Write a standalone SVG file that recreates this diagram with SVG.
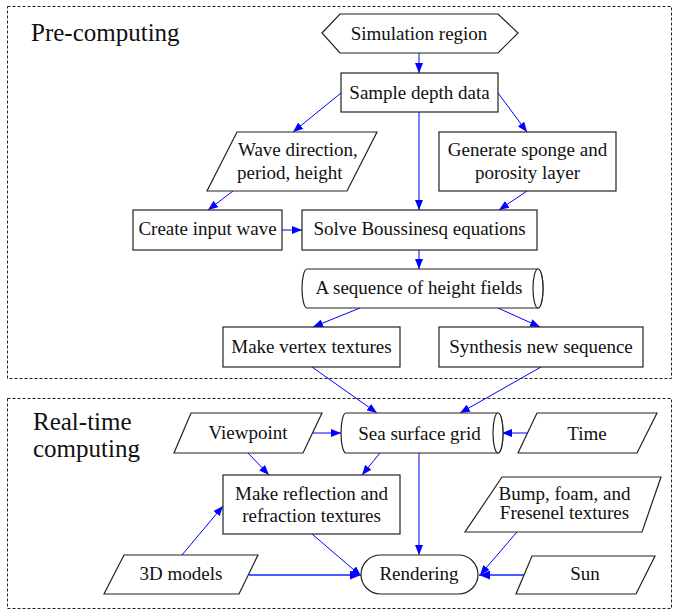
<svg xmlns="http://www.w3.org/2000/svg" width="674" height="612" viewBox="0 0 674 612">
<defs>
<style>
.sh{fill:#fff;stroke:#222;stroke-width:1.2}
.t{font-family:"Liberation Serif","Times New Roman",serif;font-size:19px;fill:#111}
.c{text-anchor:middle}
.h{font-family:"Liberation Serif","Times New Roman",serif;font-size:25px;fill:#111}
.frame{fill:none;stroke:#222;stroke-width:1;stroke-dasharray:3 2}
.e{fill:none;stroke:#0000ff;stroke-width:1;marker-end:url(#ah)}
.eb{fill:none;stroke:#4a5cff;stroke-width:2.2;marker-end:url(#ahb)}
</style>
<marker id="ah" viewBox="0 0 10 8" refX="10" refY="4" markerWidth="10" markerHeight="8" markerUnits="userSpaceOnUse" orient="auto">
<path d="M0,0 L10,4 L0,8 z" fill="#0000ff"/>
</marker>
<marker id="ahb" viewBox="0 0 10 8" refX="10" refY="4" markerWidth="11" markerHeight="9" markerUnits="userSpaceOnUse" orient="auto">
<path d="M0,0 L10,4 L0,8 z" fill="#0000ff"/>
</marker>
</defs>
<rect x="0" y="0" width="674" height="612" fill="#fff"/>

<g id="frames">
<rect class="frame" x="7.5" y="6.5" width="664" height="372"/>
<rect class="frame" x="7.5" y="398.5" width="664" height="210"/>
<text class="h" x="31" y="41">Pre-computing</text>
<text class="h" x="33" y="430">Real-time</text>
<text class="h" x="33" y="457">computing</text>
</g>

<g id="connectors">
<line class="e" x1="419" y1="53" x2="419" y2="73"/>
<line class="e" x1="341" y1="93" x2="293" y2="132"/>
<line class="e" x1="498" y1="93" x2="527" y2="132"/>
<line class="e" x1="419" y1="112" x2="419" y2="210"/>
<line class="e" x1="233" y1="191" x2="208" y2="210"/>
<line class="e" x1="527" y1="191" x2="499" y2="210"/>
<line class="e" x1="282" y1="230" x2="302" y2="230"/>
<line class="e" x1="419" y1="250" x2="419" y2="269"/>
<line class="e" x1="360" y1="308" x2="313" y2="327"/>
<line class="e" x1="498" y1="308" x2="540" y2="327"/>
<line class="e" x1="312" y1="367" x2="377" y2="413"/>
<line class="e" x1="541" y1="367" x2="460" y2="413"/>
<line class="e" x1="312" y1="433" x2="341" y2="433"/>
<line class="e" x1="527" y1="433" x2="502" y2="433"/>
<line class="e" x1="248" y1="453" x2="269" y2="475"/>
<line class="e" x1="380" y1="453" x2="362" y2="475"/>
<line class="e" x1="419" y1="453" x2="419" y2="555"/>
<line class="e" x1="182" y1="555" x2="223" y2="506"/>
<line class="e" x1="312" y1="534" x2="361" y2="576"/>
<line class="e" x1="517" y1="532" x2="480" y2="575"/>
<line class="eb" x1="249" y1="575" x2="361" y2="575"/>
<line class="eb" x1="524" y1="575" x2="479" y2="575"/>
</g>

<g id="simulation-region">
<polygon class="sh" points="322,33 340,14 498,14 518,33 498,53 340,53"/>
<text class="t c" x="419" y="40">Simulation region</text>
</g>
<g id="sample-depth">
<rect class="sh" x="341" y="73" width="157" height="39"/>
<text class="t c" x="419.5" y="99">Sample depth data</text>
</g>
<g id="wave-direction">
<polygon class="sh" points="237,132 377,132 347,191 207,191"/>
<text class="t" x="238" y="156">Wave direction,</text>
<text class="t" x="237" y="179">period, height</text>
</g>
<g id="sponge">
<rect class="sh" x="439" y="132" width="177" height="59"/>
<text class="t c" x="527.5" y="156">Generate sponge and</text>
<text class="t c" x="527.5" y="179">porosity layer</text>
</g>
<g id="create-input-wave">
<rect class="sh" x="133" y="210" width="149" height="40"/>
<text class="t c" x="207.5" y="235">Create input wave</text>
</g>
<g id="solve">
<rect class="sh" x="302" y="210" width="235" height="40"/>
<text class="t c" x="419.5" y="235">Solve Boussinesq equations</text>
</g>
<g id="height-fields">
<path class="sh" d="M307,269 L538,269 A5,19.5 0 0 1 538,308 L307,308 A5,19.5 0 0 1 307,269 Z"/>
<ellipse class="sh" cx="538" cy="288.5" rx="5" ry="19.5"/>
<text class="t c" x="419" y="294">A sequence of height fields</text>
</g>
<g id="vertex-textures">
<rect class="sh" x="223" y="327" width="177" height="40"/>
<text class="t c" x="311.5" y="353">Make vertex textures</text>
</g>
<g id="synthesis">
<rect class="sh" x="439" y="327" width="204" height="40"/>
<text class="t c" x="541" y="353">Synthesis new sequence</text>
</g>

<g id="viewpoint">
<polygon class="sh" points="191,413 322,413 303,453 174,453"/>
<text class="t c" x="248" y="439">Viewpoint</text>
</g>
<g id="sea-surface">
<path class="sh" d="M346,413 L498,413 A5,20 0 0 1 498,453 L346,453 A5,20 0 0 1 346,413 Z"/>
<ellipse class="sh" cx="498" cy="433" rx="5" ry="20"/>
<text class="t c" x="419.5" y="440">Sea surface grid</text>
</g>
<g id="time">
<polygon class="sh" points="537,413 657,413 637,453 518,453"/>
<text class="t c" x="587" y="440">Time</text>
</g>
<g id="reflection">
<rect class="sh" x="223" y="475" width="177" height="59"/>
<text class="t c" x="311.5" y="500">Make reflection and</text>
<text class="t c" x="311.5" y="522">refraction textures</text>
</g>
<g id="bump">
<polygon class="sh" points="502,477 661,477 642,532 465,532"/>
<text class="t c" x="564.5" y="500">Bump, foam, and</text>
<text class="t c" x="564.5" y="519">Fresenel textures</text>
</g>
<g id="models">
<polygon class="sh" points="124,555 258,555 239,594 104,594"/>
<text class="t c" x="181" y="580">3D models</text>
</g>
<g id="rendering">
<rect class="sh" x="361" y="555" width="117" height="39" rx="19.5" ry="19.5"/>
<text class="t c" x="419" y="580">Rendering</text>
</g>
<g id="sun">
<polygon class="sh" points="532,556 655,556 636,594 516,594"/>
<text class="t c" x="585" y="580">Sun</text>
</g>
</svg>
